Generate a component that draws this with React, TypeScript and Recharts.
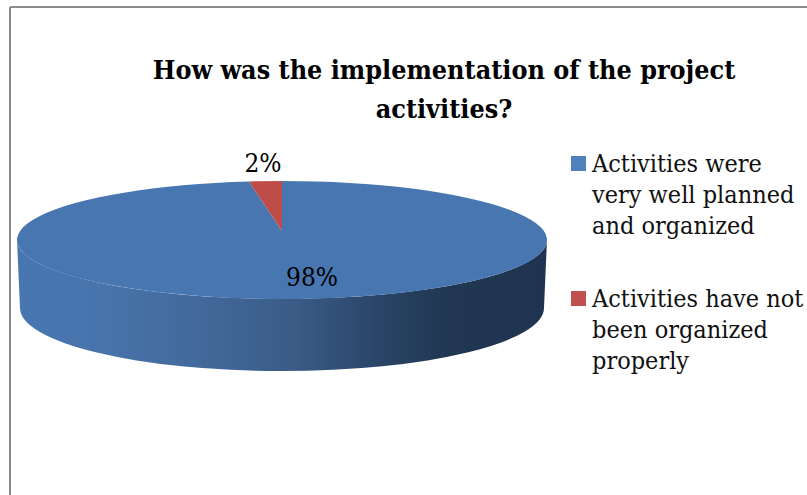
import React from 'react';
import { PieChart, Pie, Cell, Legend } from 'recharts';

const categoryLines = [
  ['Activities were', 'very well planned', 'and organized'],
  ['Activities have not', 'been organized', 'properly'],
];
const shares = [98, 2];
const colors = ['#4876b1', '#be4c49'];
const legendColors = ['#4f81bd', '#c0504d'];
const titleLines = ['How was the implementation of the project', 'activities?'];
const data = shares.map((value, i) => ({ name: categoryLines[i].join(' '), value }));

const W = 807, H = 495;
const CX = 282, CY = 240, RX = 265, RY = 59, APEX_LIFT = 9;
const WALL_DROP = 68, WALL_RY = 63, WALL_INSET = 3;
const serif = '"DejaVu Serif Condensed", "DejaVu Serif", serif';

const pt = (cx: number, cy: number, a: number) => {
  const r = (a * Math.PI) / 180;
  return [cx + RX * Math.cos(r), cy - RY * Math.sin(r)];
};

function EllipseSlice(props: any) {
  const { cx, cy, startAngle, endAngle, fill, index } = props;
  const [x0, y0] = pt(cx, cy, startAngle);
  const [x1, y1] = pt(cx, cy, endAngle);
  const large = Math.abs(endAngle - startAngle) > 180 ? 1 : 0;
  const d = `M${cx},${cy - APEX_LIFT} L${x0},${y0} A${RX},${RY} 0 ${large} 1 ${x1},${y1} Z`;
  const wall =
    `M${cx - RX},${cy} A${RX},${RY} 0 0 0 ${cx + RX},${cy} ` +
    `L${cx + RX - WALL_INSET},${cy + WALL_DROP} A${RX - WALL_INSET},${WALL_RY} 0 0 1 ${cx - RX + WALL_INSET},${cy + WALL_DROP} Z`;
  return (
    <g>
      {index === 0 && <path d={wall} fill="url(#wallGrad)" />}
      <path d={d} fill={fill} />
    </g>
  );
}

function sliceLabel(props: any) {
  const { cx, cy, index, value } = props;
  const dx = index === 0 ? 30 : -19;
  const dy = index === 0 ? 37 : -77;
  return (
    <text x={cx + dx} y={cy + dy} textAnchor="middle" dominantBaseline="central"
      fontFamily={serif} fontSize={26} fill="#000">
      {`${value}%`}
    </text>
  );
}

function LegendBox() {
  return (
    <div style={{ fontFamily: serif, fontSize: 25, lineHeight: '31px', color: '#111' }}>
      {categoryLines.map((lines, i) => (
        <div key={i} style={{ position: 'relative', paddingLeft: 21, marginBottom: i === 0 ? 42 : 0, whiteSpace: 'nowrap' }}>
          <span style={{ position: 'absolute', left: 0, top: 8, width: 15, height: 15, background: legendColors[i] }} />
          {lines.map((l) => <div key={l}>{l}</div>)}
        </div>
      ))}
    </div>
  );
}

export default function App() {
  return (
    <div style={{ position: 'absolute', left: 0, top: 0, width: W, height: H, background: '#fff', overflow: 'hidden' }}>
      <PieChart width={W} height={H} margin={{ top: 0, right: 0, bottom: 0, left: 0 }}>
        <defs>
          <linearGradient id="wallGrad" gradientUnits="userSpaceOnUse" x1={CX - RX} y1="0" x2={CX + RX} y2="0">
            <stop offset="0" stopColor="#4876b1" />
            <stop offset="0.16" stopColor="#4774ac" />
            <stop offset="0.35" stopColor="#42699a" />
            <stop offset="0.52" stopColor="#3a5c87" />
            <stop offset="0.68" stopColor="#2a4568" />
            <stop offset="0.82" stopColor="#203651" />
            <stop offset="1" stopColor="#1f3450" />
          </linearGradient>
        </defs>
        <line x1={10} y1={7} x2={807} y2={7} stroke="#8c8c8c" strokeWidth={2} />
        <line x1={10} y1={7} x2={10} y2={495} stroke="#8c8c8c" strokeWidth={2} />
        {titleLines.map((t, i) => (
          <text key={t} x={444} y={79 + i * 39} textAnchor="middle" fontFamily={serif}
            fontWeight="bold" fontSize={26.7} fill="#000">{t}</text>
        ))}
        <Pie data={data} dataKey="value" nameKey="name" cx={CX} cy={CY} outerRadius={RX}
          startAngle={90} endAngle={-270} stroke="none" isAnimationActive={false}
          shape={EllipseSlice} label={sliceLabel} labelLine={false}>
          {data.map((d, i) => <Cell key={d.name} fill={colors[i]} />)}
        </Pie>
        <Legend content={<LegendBox />} layout="vertical" wrapperStyle={{ position: 'absolute', left: 571, top: 148, width: 236 }} />
      </PieChart>
    </div>
  );
}
